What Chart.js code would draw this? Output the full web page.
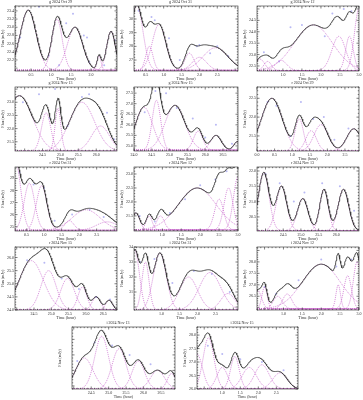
<!DOCTYPE html>
<html><head><meta charset="utf-8">
<script src="https://cdn.jsdelivr.net/npm/chart.js@4/dist/chart.umd.min.js"></script>
<style>
html,body{margin:0;padding:0;background:#fff;width:363px;height:400px;overflow:hidden}
canvas{position:absolute}
</style></head><body>
<script>
// ---- panel titles ----
const titles = ["g 2024 Oct 29","g 2024 Oct 31","g 2024 Nov 12","g 2024 Nov 13","g 2024 Nov 15",
  "r 2024 Oct 29","r 2024 Oct 31","r 2024 Nov 12","r 2024 Nov 13","r 2024 Nov 15",
  "i 2024 Oct 31","i 2024 Nov 12","i 2024 Nov 13","i 2024 Nov 15"];
// ---- axis ranges [min, max, step] ----
const xRanges = [[0.1,2.65,0.5],[0.17,3.08,0.5],[0.32,3.0,0.5],[23.73,26.58,0.5],[24.0,26.92,0.5],
  [0.0,2.9,0.5],[0.17,3.08,0.5],[0.25,3.0,0.5],[23.76,26.64,0.5],[23.95,26.9,0.5],
  [0.23,3.13,0.5],[0.3,3.0,0.5],[23.95,26.9,0.5],[0.3,3.1,0.5]];
const yRanges = [[21.93,23.52,0.2],[26.2,30.95,1],[22.28,25.13,0.5],[21.15,23.58,0.5],[24.76,27.79,0.5],
  [21.1,22.8,0.5],[24.64,29.95,1],[20.96,23.25,0.5],[20.04,22.13,0.5],[24.0,26.4,0.5],
  [29.8,34.0,1],[25.9,28.65,0.5],[25.4,27.4,0.5],[26.0,28.3,0.5]];
const baseLevels = [21.95,26.25,22.3,21.15,24.8,21.1,24.7,21.0,20.05,24.0,29.8,25.95,25.4,26.0];
// ---- fitted flare components [centre (h), peak flux (mJy), width (h)] ----
const gOct29 = [[0.43,23.42,0.2],[1.15,23.2,0.13],[1.6,23.0,0.19],[2.2,22.3,0.05],[2.5,22.9,0.11]];
const gOct31 = [[0.25,31.0,0.17],[0.6,28.0,0.1],[0.87,29.6,0.19],[1.72,27.5,0.13],[2.0,27.2,0.2],[2.45,27.9,0.35]];
const gNov12 = [[0.4,22.8,0.12],[0.6,22.7,0.1],[0.95,22.75,0.15],[1.8,24.3,0.5],[2.47,23.8,0.18],[2.75,23.8,0.1],[3.0,25.0,0.12]];
const gNov13 = [[23.85,23.25,0.37],[24.6,22.6,0.13],[24.93,22.77,0.08],[25.6,23.0,0.35],[26.12,22.1,0.25]];
const gNov15 = [[24.28,26.83,0.24],[24.63,27.16,0.12],[25.15,26.92,0.28],[25.8,25.7,0.13],[26.3,25.5,0.15],[26.9,25.2,0.1]];
const rOct29 = [[0.42,22.5,0.3],[1.2,21.96,0.12],[1.54,21.64,0.15],[1.82,21.8,0.2],[2.75,21.69,0.2]];
const rOct31 = [[0.18,30.5,0.15],[0.58,28.6,0.15],[0.93,28.4,0.15],[1.72,25.5,0.13],[2.2,26.4,0.4],[2.8,25.4,0.3]];
const rNov12 = [[0.3,21.6,0.1],[0.65,21.5,0.08],[0.95,21.5,0.1],[1.92,22.5,0.5],[2.5,22.1,0.12],[2.75,22.5,0.12],[3.0,22.9,0.12]];
const rNov13 = [[23.95,21.95,0.15],[24.45,21.5,0.15],[25.05,21.1,0.15],[25.65,21.4,0.12],[26.2,21.4,0.15]];
const rNov15 = [[24.42,25.88,0.35],[24.92,25.5,0.22],[25.47,25.2,0.2],[25.9,24.87,0.13],[26.3,24.5,0.12],[26.67,24.37,0.1]];
const iOct31 = [[0.25,33.8,0.13],[0.55,33.0,0.1],[0.95,33.6,0.18],[1.75,32.0,0.25],[2.35,32.3,0.3],[2.85,30.9,0.2]];
const iNov12 = [[0.32,26.75,0.1],[0.5,26.9,0.07],[0.85,26.5,0.12],[1.1,26.6,0.12],[2.0,27.9,0.5],[2.45,27.0,0.06],[2.7,27.4,0.1],[2.95,28.0,0.1]];
const iNov13 = [[24.3,26.4,0.25],[24.8,27.1,0.2],[25.3,26.7,0.2],[25.85,26.3,0.18],[26.4,26.0,0.2],[26.8,25.9,0.12]];
const iNov15 = [[0.3,27.3,0.15],[0.62,27.9,0.15],[1.0,26.8,0.15],[1.35,27.2,0.12],[1.75,26.8,0.2],[2.1,26.9,0.2],[2.6,26.6,0.2]];
// ---- observed photometry [time, flux] ----
const gOct29Obs = [[0.23,22.75],[0.7,23.5],[0.94,22.3],[1.2,22.07],[1.38,23.1],[1.55,23.33],[1.82,22.8],[1.9,22.75],[1.96,22.15],[2.33,22.07],[2.6,22.68]];
const gOct31Obs = [[0.3,30.6],[0.66,30.15],[0.75,29.9],[1.15,28.6],[1.45,27.0],[1.93,28.0],[2.0,28.1],[2.3,27.5],[2.5,28.0],[2.8,27.3]];
const gNov12Obs = [[0.5,23.1],[0.9,22.7],[1.2,24.2],[1.5,24.3],[2.1,23.8],[2.3,24.8],[2.6,25.0],[2.8,24.9]];
const gNov13Obs = [[23.95,23.0],[24.4,23.3],[24.7,22.4],[24.85,23.5],[25.2,22.1],[25.6,23.2],[25.8,23.3],[26.3,22.6],[26.5,21.6]];
const gNov15Obs = [[24.3,26.6],[24.6,27.6],[24.9,27.5],[25.2,26.8],[25.65,26.3],[26.0,25.4],[26.3,26.0],[26.75,25.1]];
const rOct29Obs = [[0.3,22.4],[0.55,22.3],[0.95,21.5],[1.25,22.4],[1.6,21.95],[1.9,22.0],[2.2,21.4],[2.6,21.7]];
const rOct31Obs = [[0.3,29.5],[0.7,28.5],[1.0,28.2],[1.3,25.5],[1.8,26.0],[2.3,26.4],[2.7,25.8]];
const rNov12Obs = [[0.4,21.5],[0.8,21.3],[1.2,21.6],[1.6,22.1],[2.0,22.6],[2.4,22.8],[2.7,23.1]];
const rNov13Obs = [[24.0,21.9],[24.4,21.6],[24.8,21.0],[25.1,21.3],[25.6,21.6],[26.1,21.5],[26.5,20.7]];
const rNov15Obs = [[24.3,25.9],[24.8,25.8],[25.3,25.2],[25.8,24.8],[26.3,24.5],[26.7,24.4]];
const iOct31Obs = [[0.4,33.0],[0.8,33.2],[1.3,31.6],[1.9,32.4],[2.4,32.2],[2.9,31.0]];
const iNov12Obs = [[0.5,26.9],[0.8,26.6],[1.4,27.2],[2.0,28.1],[2.4,27.8],[2.8,28.1]];
const iNov13Obs = [[24.1,26.3],[24.6,26.9],[25.1,26.8],[25.6,26.5],[26.2,26.2]];
const iNov15Obs = [[0.6,27.6],[1.0,27.3],[1.5,27.1],[2.1,27.0],[2.7,26.7]];
// ---- plot-area boxes [left, top, right, bottom] (page px) ----
const boxes = [[15,6,120,71],[134,6,241,71],[257,6,362,71],
  [15,87,120,151],[134,87,241,151],[257,87,362,151],
  [15,167,120,231],[134,167,241,231],[257,167,362,231],
  [15,247,120,310],[134,247,241,310],[257,247,362,310],
  [72,327,178,389],[197,327,301,389]];

const compSets = [gOct29,gOct31,gNov12,gNov13,gNov15,rOct29,rOct31,rNov12,rNov13,rNov15,iOct31,iNov12,iNov13,iNov15];
const obsSets = [gOct29Obs,gOct31Obs,gNov12Obs,gNov13Obs,gNov15Obs,rOct29Obs,rOct31Obs,rNov12Obs,rNov13Obs,rNov15Obs,iOct31Obs,iNov12Obs,iNov13Obs,iNov15Obs];

const FONT = "'Liberation Serif','DejaVu Serif',serif";
const INK = '#2a2a2a';

function decimals(step){ return step >= 1 ? 0 : 1; }
function onStep(v, step){ return Math.abs(v / step - Math.round(v / step)) < 1e-6; }

const frameTicks = {
  id: 'frameTicks',
  afterDatasetsDraw(chart){
    const {ctx, chartArea: a, scales: {x, y}} = chart;
    const xo = chart.options.scales.x, yo = chart.options.scales.y;
    ctx.save();
    ctx.strokeStyle = INK; ctx.lineWidth = 0.6;
    ctx.strokeRect(a.left, a.top, a.right - a.left, a.bottom - a.top);
    ctx.beginPath();
    const mark = (scale, opt, horiz) => {
      const step = opt.ticks.stepSize, minor = step / 5;
      const start = Math.ceil(opt.min / minor - 1e-6);
      const end = Math.floor(opt.max / minor + 1e-6);
      for (let k = start; k <= end; k++) {
        const v = k * minor;
        const len = onStep(v, step) ? 2.5 : 1.2;
        const p = scale.getPixelForValue(v);
        if (horiz) {
          ctx.moveTo(p, a.bottom); ctx.lineTo(p, a.bottom - len);
          ctx.moveTo(p, a.top); ctx.lineTo(p, a.top + len);
        } else {
          ctx.moveTo(a.left, p); ctx.lineTo(a.left + len, p);
          ctx.moveTo(a.right, p); ctx.lineTo(a.right - len, p);
        }
      }
    };
    mark(x, xo, true); mark(y, yo, false);
    ctx.stroke();
    ctx.restore();
  }
};

const YW = 14, XH = 10, TH = 7;

for (let i = 0; i < 14; i++) {
  const [L, T, R, B] = boxes[i];
  const [x0, x1, xs] = xRanges[i];
  const [y0, y1, ys] = yRanges[i];
  const base = baseLevels[i];
  const comps = compSets[i];
  const cv = document.createElement('canvas');
  const W = (R - L) + YW + 1, H = (B - T) + TH + XH;
  cv.width = W; cv.height = H;
  cv.style.left = (L - YW) + 'px'; cv.style.top = (T - TH) + 'px';
  cv.style.width = W + 'px'; cv.style.height = H + 'px';
  document.body.appendChild(cv);

  const n = 240, xsGrid = [];
  for (let k = 0; k <= n; k++) xsGrid.push(x0 + (x1 - x0) * k / n);
  const gauss = (c, x) => (c[1] - base) * Math.exp(-0.5 * Math.pow((x - c[0]) / c[2], 2));
  const datasets = [];
  comps.forEach(c => {
    datasets.push({
      data: xsGrid.map(x => ({x, y: base + gauss(c, x)})),
      borderColor: '#c45ac8', borderWidth: 0.7, borderDash: [1, 1],
      pointRadius: 0, fill: false, order: 2
    });
  });
  datasets.push({
    data: xsGrid.map(x => ({x, y: base + comps.reduce((s, c) => s + gauss(c, x), 0)})),
    borderColor: '#3a3a3a', borderWidth: 0.9, pointRadius: 0, fill: false, order: 1
  });
  datasets.push({
    data: obsSets[i].map(p => ({x: p[0], y: p[1]})),
    showLine: false, pointRadius: 1, pointBorderWidth: 0,
    pointBackgroundColor: '#b8b8f4', order: 3
  });

  const tickFont = {family: FONT, size: 4, lineHeight: 1};
  new Chart(cv, {
    type: 'line',
    data: {datasets},
    options: {
      responsive: false, animation: false, devicePixelRatio: 1,
      layout: {padding: {left: 0, right: 1, top: 0, bottom: 0}},
      plugins: {
        legend: {display: false}, tooltip: {enabled: false},
        title: {display: true, text: titles[i], color: INK, font: {family: FONT, size: 4, lineHeight: 1, weight: 'normal'}, padding: {top: 1, bottom: 2}}
      },
      scales: {
        x: {
          type: 'linear', min: x0, max: x1,
          grid: {display: false, drawTicks: false}, border: {display: false},
          ticks: {stepSize: xs, font: tickFont, color: INK, padding: 2, maxRotation: 0, minRotation: 0, autoSkip: false,
            callback: v => onStep(v, xs) ? Number(v).toFixed(1) : ''},
          title: {display: true, text: 'Time (hour)', color: INK, font: tickFont, padding: 0},
          afterFit(s){ s.height = XH; s.paddingLeft = 0; s.paddingRight = 0; }
        },
        y: {
          type: 'linear', min: y0, max: y1,
          grid: {display: false, drawTicks: false}, border: {display: false},
          ticks: {stepSize: ys, font: tickFont, color: INK, padding: 1, autoSkip: false,
            callback: v => onStep(v, ys) ? Number(v).toFixed(decimals(ys)) : ''},
          title: {display: true, text: 'Flux (mJy)', color: INK, font: tickFont, padding: 0},
          afterFit(s){ s.width = YW; s.paddingTop = 0; s.paddingBottom = 0; }
        }
      }
    },
    plugins: [frameTicks]
  });
}
</script>
</body></html>
